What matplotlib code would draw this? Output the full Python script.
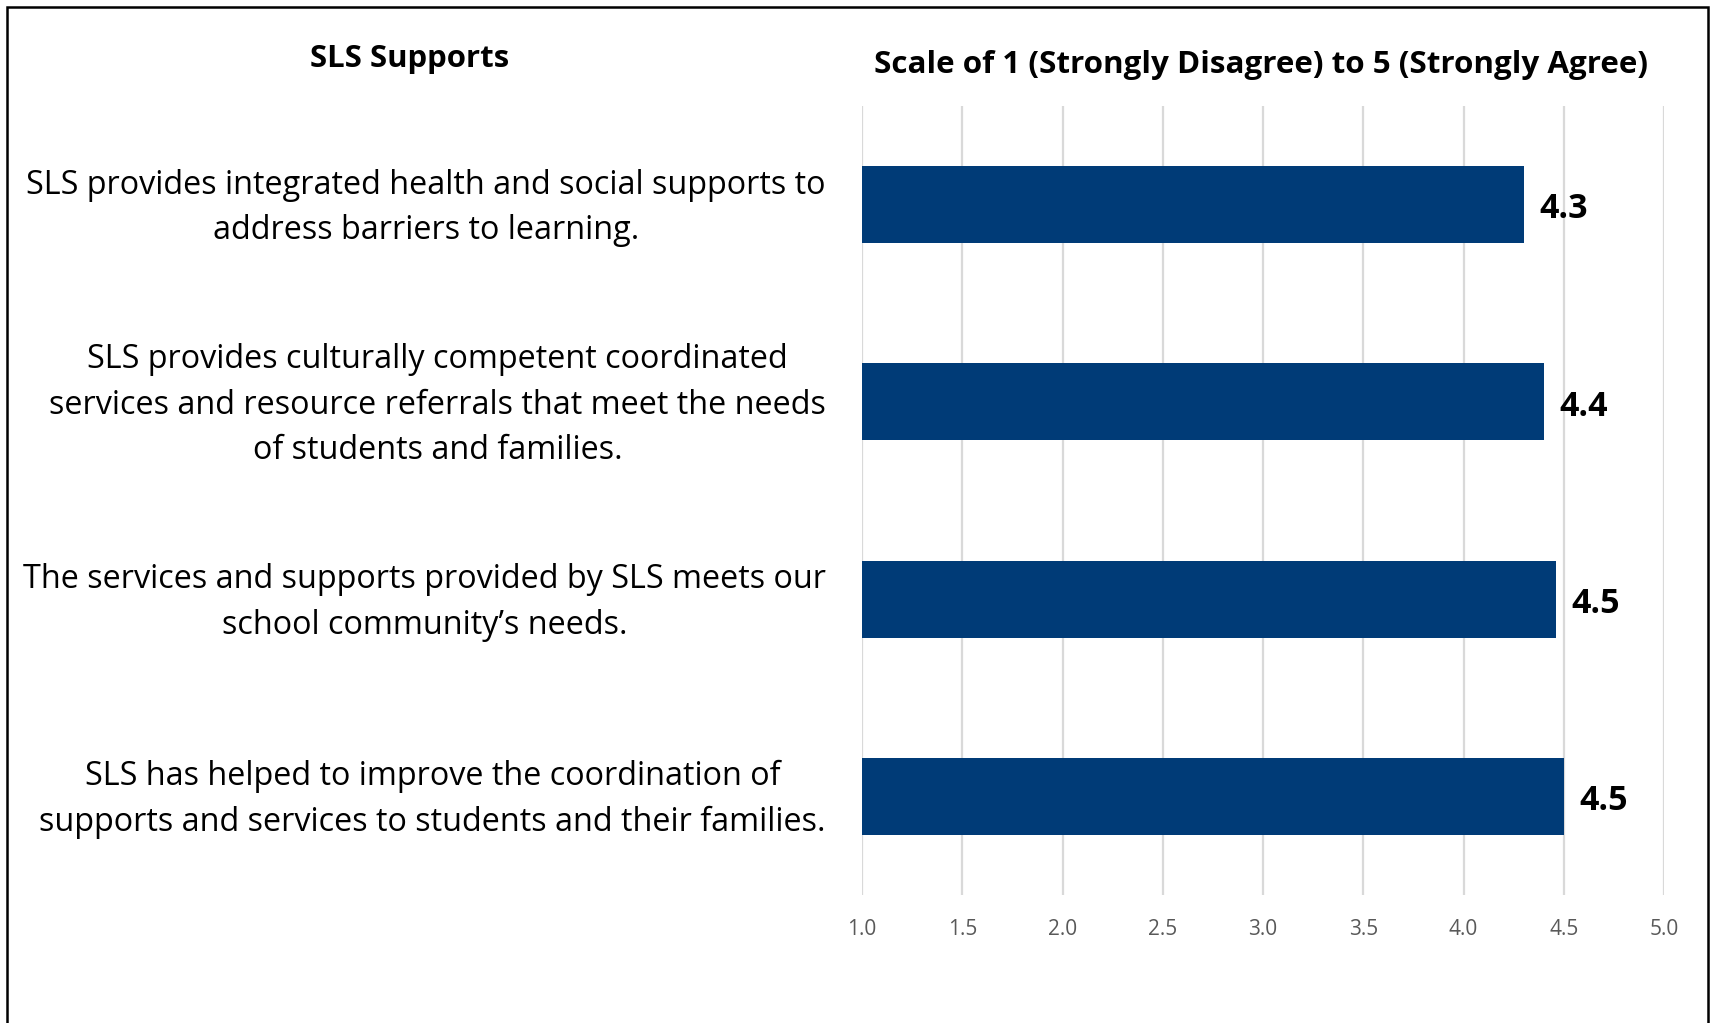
import matplotlib
matplotlib.use("Agg")
import matplotlib.pyplot as plt
from matplotlib.patches import Rectangle
from matplotlib.transforms import ScaledTranslation

plt.rcParams["font.family"] = ["Open Sans", "DejaVu Sans"]

# --- data ---
statements = [
    "SLS provides integrated health and social supports to\naddress barriers to learning.",
    "SLS provides culturally competent coordinated\nservices and resource referrals that meet the needs\nof students and families.",
    "The services and supports provided by SLS meets our\nschool community\u2019s needs.",
    "SLS has helped to improve the coordination of\nsupports and services to students and their families.",
]
scores = [4.30, 4.40, 4.46, 4.50]
score_labels = ["4.3", "4.4", "4.5", "4.5"]
x_ticks = [1.0, 1.5, 2.0, 2.5, 3.0, 3.5, 4.0, 4.5, 5.0]

BAR_COLOR = "#003B77"

fig = plt.figure(figsize=(17.12, 10.23), dpi=100)
ax = fig.add_axes([0.5035, 0.1251, 0.4685, 0.7713])

ypos = list(range(len(statements)))
ax.barh(ypos, [s - 1.0 for s in scores], left=1.0, height=0.39,
        color=BAR_COLOR, zorder=3)

# value labels, a bit right of the bar end
for y, s, lab in zip(ypos, scores, score_labels):
    ax.annotate(lab, (s, y), xytext=(11, -3.5), textcoords="offset points",
                ha="left", va="center", fontsize=24.5, fontweight="bold",
                color="black", zorder=4)

ax.set_xlim(1.0, 5.0)
ax.set_ylim(3.5, -0.5)
ax.set_xticks(x_ticks)
ax.set_xticklabels([f"{t:.1f}" for t in x_ticks])
ax.set_yticks(ypos)
ax.tick_params(axis="x", length=0, pad=17, labelsize=15, labelcolor="#595959")
ax.tick_params(axis="y", length=0, pad=26)
ax.set_yticklabels(statements, fontsize=23.3, multialignment="center",
                   linespacing=1.5, va="center")
# nudge the statement labels down a little (after tick_params, which resets transforms)
shift = ScaledTranslation(0, -0.033, fig.dpi_scale_trans)
for lbl in ax.get_yticklabels():
    lbl.set_transform(lbl.get_transform() + shift)
ax.grid(axis="x", color="#D9D9D9", linewidth=1.6, zorder=0)
for sp in ax.spines.values():
    sp.set_visible(False)

# column headers
fig.text(0.239, 0.9425, "SLS Supports", ha="center", va="center",
         fontsize=22.4, fontweight="bold")
fig.text(0.7366, 0.9364, "Scale of 1 (Strongly Disagree) to 5 (Strongly Agree)",
         ha="center", va="center", fontsize=22.6, fontweight="bold")

# outer frame
fig.patches.append(Rectangle((7.5 / 1712, -0.02), (1708 - 7.5) / 1712,
                             1.02 - 6.5 / 1023, transform=fig.transFigure,
                             fill=False, edgecolor="black", linewidth=1.8))

fig.savefig("out.png", dpi=100)
